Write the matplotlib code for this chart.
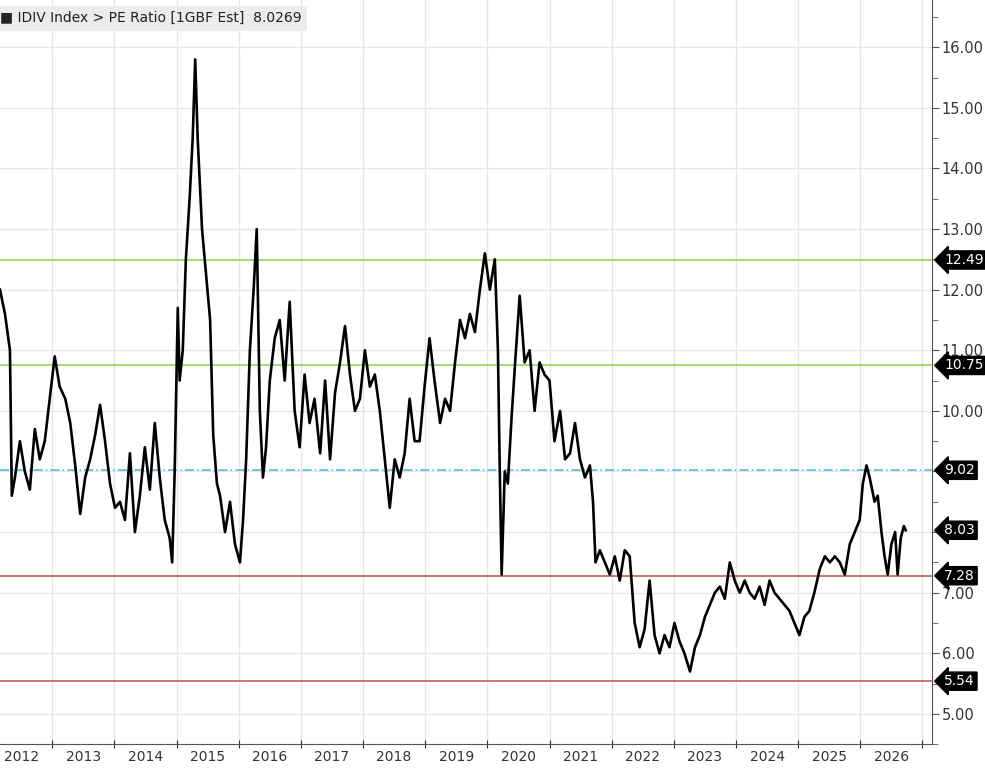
import matplotlib
matplotlib.use("Agg")
import matplotlib.pyplot as plt
import numpy as np

years = [2012.16,2012.24,2012.32,2012.35,2012.40,2012.48,2012.56,2012.64,2012.72,2012.80,2012.88,2012.96,
 2013.04,2013.12,2013.21,2013.29,2013.37,2013.45,2013.53,2013.61,2013.69,2013.77,2013.85,2013.93,
 2014.01,2014.09,2014.17,2014.25,2014.33,2014.41,2014.49,2014.57,2014.65,2014.73,2014.81,2014.89,2014.93,2014.97,
 2015.02,2015.05,2015.10,2015.15,2015.21,2015.26,2015.30,2015.34,2015.41,2015.47,2015.54,2015.59,2015.65,2015.70,2015.78,2015.86,2015.94,
 2016.02,2016.07,2016.12,2016.18,2016.24,2016.29,2016.34,2016.39,2016.44,2016.50,2016.58,2016.66,2016.74,2016.82,2016.90,2016.98,
 2017.06,2017.14,2017.22,2017.31,2017.39,2017.47,2017.55,2017.63,2017.71,2017.79,2017.87,2017.95,
 2018.03,2018.11,2018.19,2018.27,2018.35,2018.43,2018.51,2018.59,2018.67,2018.75,2018.83,2018.91,2018.99,
 2019.07,2019.15,2019.24,2019.32,2019.40,2019.48,2019.56,2019.64,2019.72,2019.80,2019.88,2019.96,
 2020.04,2020.12,2020.17,2020.20,2020.23,2020.28,2020.33,2020.39,2020.46,2020.52,2020.60,2020.68,2020.76,2020.84,2020.92,
 2021.00,2021.08,2021.17,2021.25,2021.33,2021.41,2021.49,2021.57,2021.65,2021.70,2021.74,2021.81,2021.89,2021.97,
 2022.05,2022.13,2022.21,2022.29,2022.37,2022.45,2022.53,2022.61,2022.69,2022.77,2022.85,2022.93,
 2023.01,2023.09,2023.17,2023.26,2023.34,2023.42,2023.50,2023.58,2023.66,2023.74,2023.82,2023.90,2023.98,
 2024.06,2024.14,2024.22,2024.30,2024.38,2024.46,2024.54,2024.62,2024.70,2024.78,2024.86,2024.94,
 2025.02,2025.10,2025.18,2025.26,2025.35,2025.43,2025.51,2025.59,2025.67,2025.75,2025.83,2025.91,2025.99,
 2026.04,2026.10,2026.15,2026.23,2026.28,2026.34,2026.39,2026.44,2026.50,2026.56,2026.60,2026.65,2026.70,2026.73]
pe = [12.0,11.6,11.0,8.6,8.9,9.5,9.0,8.7,9.7,9.2,9.5,10.2,
 10.9,10.4,10.2,9.8,9.1,8.3,8.9,9.2,9.6,10.1,9.5,8.8,
 8.4,8.5,8.2,9.3,8.0,8.6,9.4,8.7,9.8,8.9,8.2,7.9,7.5,9.0,
 11.7,10.5,11.0,12.5,13.5,14.5,15.8,14.5,13.0,12.3,11.5,9.6,8.8,8.6,8.0,8.5,7.8,
 7.5,8.2,9.2,11.0,12.0,13.0,10.0,8.9,9.4,10.5,11.2,11.5,10.5,11.8,10.0,9.4,
 10.6,9.8,10.2,9.3,10.5,9.2,10.3,10.8,11.4,10.6,10.0,10.2,
 11.0,10.4,10.6,10.0,9.2,8.4,9.2,8.9,9.3,10.2,9.5,9.5,10.4,
 11.2,10.5,9.8,10.2,10.0,10.8,11.5,11.2,11.6,11.3,12.0,12.6,
 12.0,12.5,11.0,9.0,7.3,9.0,8.8,9.9,11.0,11.9,10.8,11.0,10.0,10.8,10.6,
 10.5,9.5,10.0,9.2,9.3,9.8,9.2,8.9,9.1,8.5,7.5,7.7,7.5,7.3,
 7.6,7.2,7.7,7.6,6.5,6.1,6.4,7.2,6.3,6.0,6.3,6.1,
 6.5,6.2,6.0,5.7,6.1,6.3,6.6,6.8,7.0,7.1,6.9,7.5,7.2,
 7.0,7.2,7.0,6.9,7.1,6.8,7.2,7.0,6.9,6.8,6.7,6.5,
 6.3,6.6,6.7,7.0,7.4,7.6,7.5,7.6,7.5,7.3,7.8,8.0,8.2,
 8.8,9.1,8.9,8.5,8.6,8.0,7.6,7.3,7.8,8.0,7.3,7.9,8.1,8.03]
year_labels = [str(y) for y in range(2012, 2027)]
levels = [12.49, 10.75, 9.02, 7.28, 5.54]
level_colors = ['#92d050', '#92d050', '#4fb3d9', '#c0504d', '#c0504d']
level_styles = ['-', '-', (0, (6, 2, 1, 2)), '-', '-']
last_label = "8.03"

fig = plt.figure(figsize=(9.85, 7.68), dpi=100)
ax = fig.add_axes([0.0, 0.031, 0.946, 0.969])
ax.set_xlim(2012.16, 2027.15)
ax.set_ylim(4.5, 16.78)
ax.grid(True, color='#e6e6e6', lw=1)
ax.set_axisbelow(True)

for lv, c, ls in zip(levels, level_colors, level_styles):
    ax.axhline(lv, color=c, ls=ls, lw=1.1)
ax.plot(years, pe, color='black', lw=1.9)

ax.yaxis.tick_right()
ax.set_yticks(np.arange(5, 17, 1))
ax.set_yticks(np.arange(4.5, 16.6, 0.5), minor=True)
ax.yaxis.set_major_formatter(matplotlib.ticker.FormatStrFormatter('%.2f'))
ax.tick_params(axis='y', which='major', length=5, color='#555555', labelsize=10.5, labelcolor='#333333', pad=2)
ax.tick_params(axis='y', which='minor', length=4, color='#555555')

ax.set_xticks(range(2013, 2028))
ax.set_xticklabels([])
ax.set_xticks([int(y) + 0.5 for y in year_labels], minor=True)
ax.set_xticklabels(year_labels, minor=True)
ax.tick_params(axis='x', which='major', length=6, direction='inout', color='#333333')
ax.tick_params(axis='x', which='minor', length=0, labelsize=10, labelcolor='#333333', pad=4)
for s in ['top', 'left']:
    ax.spines[s].set_visible(False)
ax.spines['right'].set_color('#555555')
ax.spines['bottom'].set_color('#555555')

tags = [f"{v:.2f}" for v in levels[:2]] + [f"{levels[2]:.2f}", last_label, f"{levels[3]:.2f}", f"{levels[4]:.2f}"]
tag_vals = [levels[0], levels[1], levels[2], float(last_label), levels[3], levels[4]]
for t, v in zip(tags, tag_vals):
    ax.annotate(t, xy=(1.0, v), xycoords=('axes fraction', 'data'), xytext=(9, 0),
                textcoords='offset points', va='center', ha='left', color='white',
                fontsize=10, zorder=10, annotation_clip=False,
                bbox=dict(boxstyle='larrow,pad=0.15', fc='black', ec='black'))

ax.text(0.0, 0.985, "■ IDIV Index > PE Ratio [1GBF Est]  8.0269", transform=ax.transAxes,
        fontsize=10, color='#222222', va='top', ha='left',
        bbox=dict(boxstyle='square,pad=0.4', fc='#ececec', ec='none'))

fig.savefig("out.png", dpi=100)
